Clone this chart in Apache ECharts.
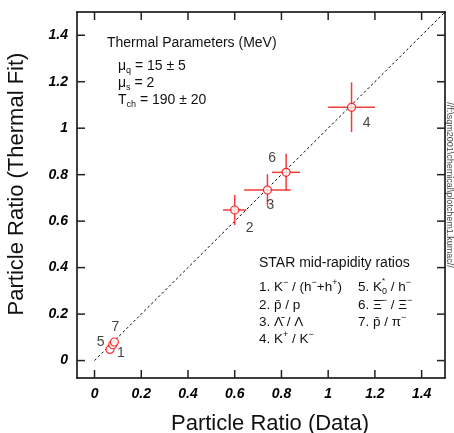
<!DOCTYPE html>
<html><head><meta charset="utf-8">
<script src="https://cdn.jsdelivr.net/npm/echarts@6/dist/echarts.min.js"></script>
<style>html,body{margin:0;padding:0;background:#fff}#c{width:454px;height:433px}</style>
</head><body><div id="c"></div>
<script>
// ---- data ----
const tickValues = [0, 0.2, 0.4, 0.6, 0.8, 1, 1.2, 1.4];
const pointIds = ['1', '2', '3', '4', '5', '6', '7'];
const dataRatio = [0.066, 0.60, 0.74, 1.10, 0.078, 0.82, 0.085];
const fitRatio  = [0.048, 0.648, 0.734, 1.09, 0.068, 0.81, 0.080];
const errData   = [0, 0.05, 0.10, 0.10, 0, 0.06, 0];
const errFit    = [0, 0.065, 0.068, 0.107, 0, 0.08, 0];
const diagonal  = [[0, 0], [1.5, 1.5]];

// ---- presentation ----
const AX_MIN = -0.075, AX_MAX = 1.5;
const FONT = '"Liberation Sans", Arial, Helvetica, sans-serif';
const labelOffsets = { '1': [11, 4], '2': [15, 18], '3': [3, 15], '4': [15, 16], '5': [-12, -3], '6': [-14, -14], '7': [1, -15] };

const chart = echarts.init(document.getElementById('c'), null, { renderer: 'canvas' });

function axisCommon(showLabels, pos) {
  return {
    type: 'value', min: AX_MIN, max: AX_MAX, position: pos,
    axisLine: { show: true, onZero: false, lineStyle: { color: '#000', width: 1.5 } },
    axisTick: { show: false },
    axisLabel: showLabels ? {
      show: true, customValues: tickValues, formatter: v => String(v),
      fontFamily: FONT, fontWeight: 'bold', fontStyle: 'italic', fontSize: 14, color: '#000', margin: 9
    } : { show: false },
    splitLine: { show: false }
  };
}

const rich = {
  t: { fontSize: 13.5, fontFamily: FONT, color: '#111', lineHeight: 18 },
  sub: { fontSize: 9, fontFamily: FONT, color: '#111', verticalAlign: 'bottom', lineHeight: 18 },
  sup: { fontSize: 9, fontFamily: FONT, color: '#111', verticalAlign: 'top', lineHeight: 18 }
};
const richBig = Object.assign({}, rich, { t: { fontSize: 14, fontFamily: FONT, color: '#111', lineHeight: 18 } });

function rt(x, y, text, r) {
  return { type: 'text', x: x, y: y, style: { text: text, rich: r || rich, align: 'left', verticalAlign: 'middle', fill: '#111' } };
}

// tick items: [value, side] with side 0=bottom 1=top 2=left 3=right
const tickItems = [];
tickValues.forEach(v => { for (let s = 0; s < 4; s++) tickItems.push([v, s]); });

const option = {
  animation: false,
  backgroundColor: '#fff',
  grid: { left: 77, right: 9, top: 12, bottom: 55, containLabel: false },
  xAxis: [axisCommon(true, 'bottom'), axisCommon(false, 'top')],
  yAxis: [axisCommon(true, 'left'), axisCommon(false, 'right')],
  series: [
    {
      type: 'line', data: diagonal, symbol: 'none', silent: true, z: 1,
      lineStyle: { color: '#000', width: 1, type: [2.5, 2.5] }
    },
    {
      type: 'custom', z: 2,
      encode: { x: 0, y: 1 },
      data: dataRatio.map((x, i) => [x, fitRatio[i], errData[i], errFit[i]]),
      renderItem: function (params, api) {
        const x = api.value(0), y = api.value(1), ex = api.value(2), ey = api.value(3);
        const c = api.coord([x, y]);
        const l = api.coord([x - ex, y]), r = api.coord([x + ex, y]);
        const t = api.coord([x, y + ey]), b = api.coord([x, y - ey]);
        const st = { stroke: '#f43a3a', lineWidth: 1.5 };
        return { type: 'group', children: [
          { type: 'line', shape: { x1: l[0], y1: c[1], x2: r[0], y2: c[1] }, style: st },
          { type: 'line', shape: { x1: c[0], y1: t[1], x2: c[0], y2: b[1] }, style: st }
        ] };
      }
    },
    {
      type: 'scatter', z: 3, symbol: 'circle', symbolSize: 8,
      itemStyle: { color: '#fff', borderColor: '#f00', borderWidth: 1.2 },
      data: dataRatio.map((x, i) => ({
        name: pointIds[i], value: [x, fitRatio[i]],
        label: { offset: labelOffsets[pointIds[i]] }
      })),
      label: { show: true, position: 'inside', formatter: '{b}', fontFamily: FONT, fontSize: 14, color: '#111' }
    },
    {
      // inward tick marks on all four sides of the frame
      type: 'custom', clip: false,
      encode: { x: 0, y: 1 },
      data: tickItems,
      renderItem: function (params, api) {
        const v = api.value(0), s = api.value(1), L = 8;
        let p, x1, y1, x2, y2;
        if (s === 0) { p = api.coord([v, AX_MIN]); x1 = x2 = p[0]; y1 = p[1]; y2 = p[1] - L; }
        else if (s === 1) { p = api.coord([v, AX_MAX]); x1 = x2 = p[0]; y1 = p[1]; y2 = p[1] + L; }
        else if (s === 2) { p = api.coord([AX_MIN, v]); y1 = y2 = p[1]; x1 = p[0]; x2 = p[0] + L; }
        else { p = api.coord([AX_MAX, v]); y1 = y2 = p[1]; x1 = p[0]; x2 = p[0] - L; }
        return { type: 'line', shape: { x1: x1, y1: y1, x2: x2, y2: y2 }, style: { stroke: '#222', lineWidth: 1.5 } };
      }
    }
  ],
  graphic: [
    { type: 'text', x: 107, y: 43, style: { text: 'Thermal Parameters (MeV)', font: '14px ' + FONT, fill: '#111', verticalAlign: 'middle' } },
    rt(118, 66, '{t|μ}{sub|q}{t| = 15 ± 5}', richBig),
    rt(118, 83, '{t|μ}{sub|s}{t| = 2}', richBig),
    rt(118, 100, '{t|T}{sub|ch}{t| = 190 ± 20}', richBig),
    { type: 'text', x: 259, y: 263, style: { text: 'STAR mid-rapidity ratios', font: '14px ' + FONT, fill: '#111', verticalAlign: 'middle' } },
    rt(259, 287, '{t|1. K}{sup|−}{t| / (h}{sup|−}{t|+h}{sup|+}{t|)}'),
    rt(259, 305, '{t|2. p\u0304 / p}'),
    rt(259, 322, '{t|3. Λ\u0304 / Λ}'),
    rt(259, 339, '{t|4. K}{sup|+}{t| / K}{sup|−}'),
    rt(358, 287, '{t|5. K}{sub|0}{t| / h}{sup|−}'),
    { type: 'text', x: 382, y: 281, style: { text: '*', font: '8px ' + FONT, fill: '#111', verticalAlign: 'middle' } },
    rt(358, 305, '{t|6. Ξ\u0304}{sup|−}{t| / Ξ}{sup|−}'),
    rt(358, 322, '{t|7. p\u0304 / π}{sup|−}'),
    { type: 'text', x: 270, y: 424, style: { text: 'Particle Ratio (Data)', font: '22px ' + FONT, fill: '#111', align: 'center', verticalAlign: 'middle' } },
    { type: 'text', x: 17, y: 184, rotation: Math.PI / 2, style: { text: 'Particle Ratio (Thermal Fit)', font: '22px ' + FONT, fill: '#111', align: 'center', verticalAlign: 'middle' } },
    { type: 'text', x: 449, y: 185, rotation: -Math.PI / 2, style: { text: '//f:\\sqm2001\\chemical\\plotchem1.kumac//', font: '9px ' + FONT, fill: '#444', align: 'center', verticalAlign: 'middle' } }
  ]
};
chart.setOption(option);
</script>
</body></html>
